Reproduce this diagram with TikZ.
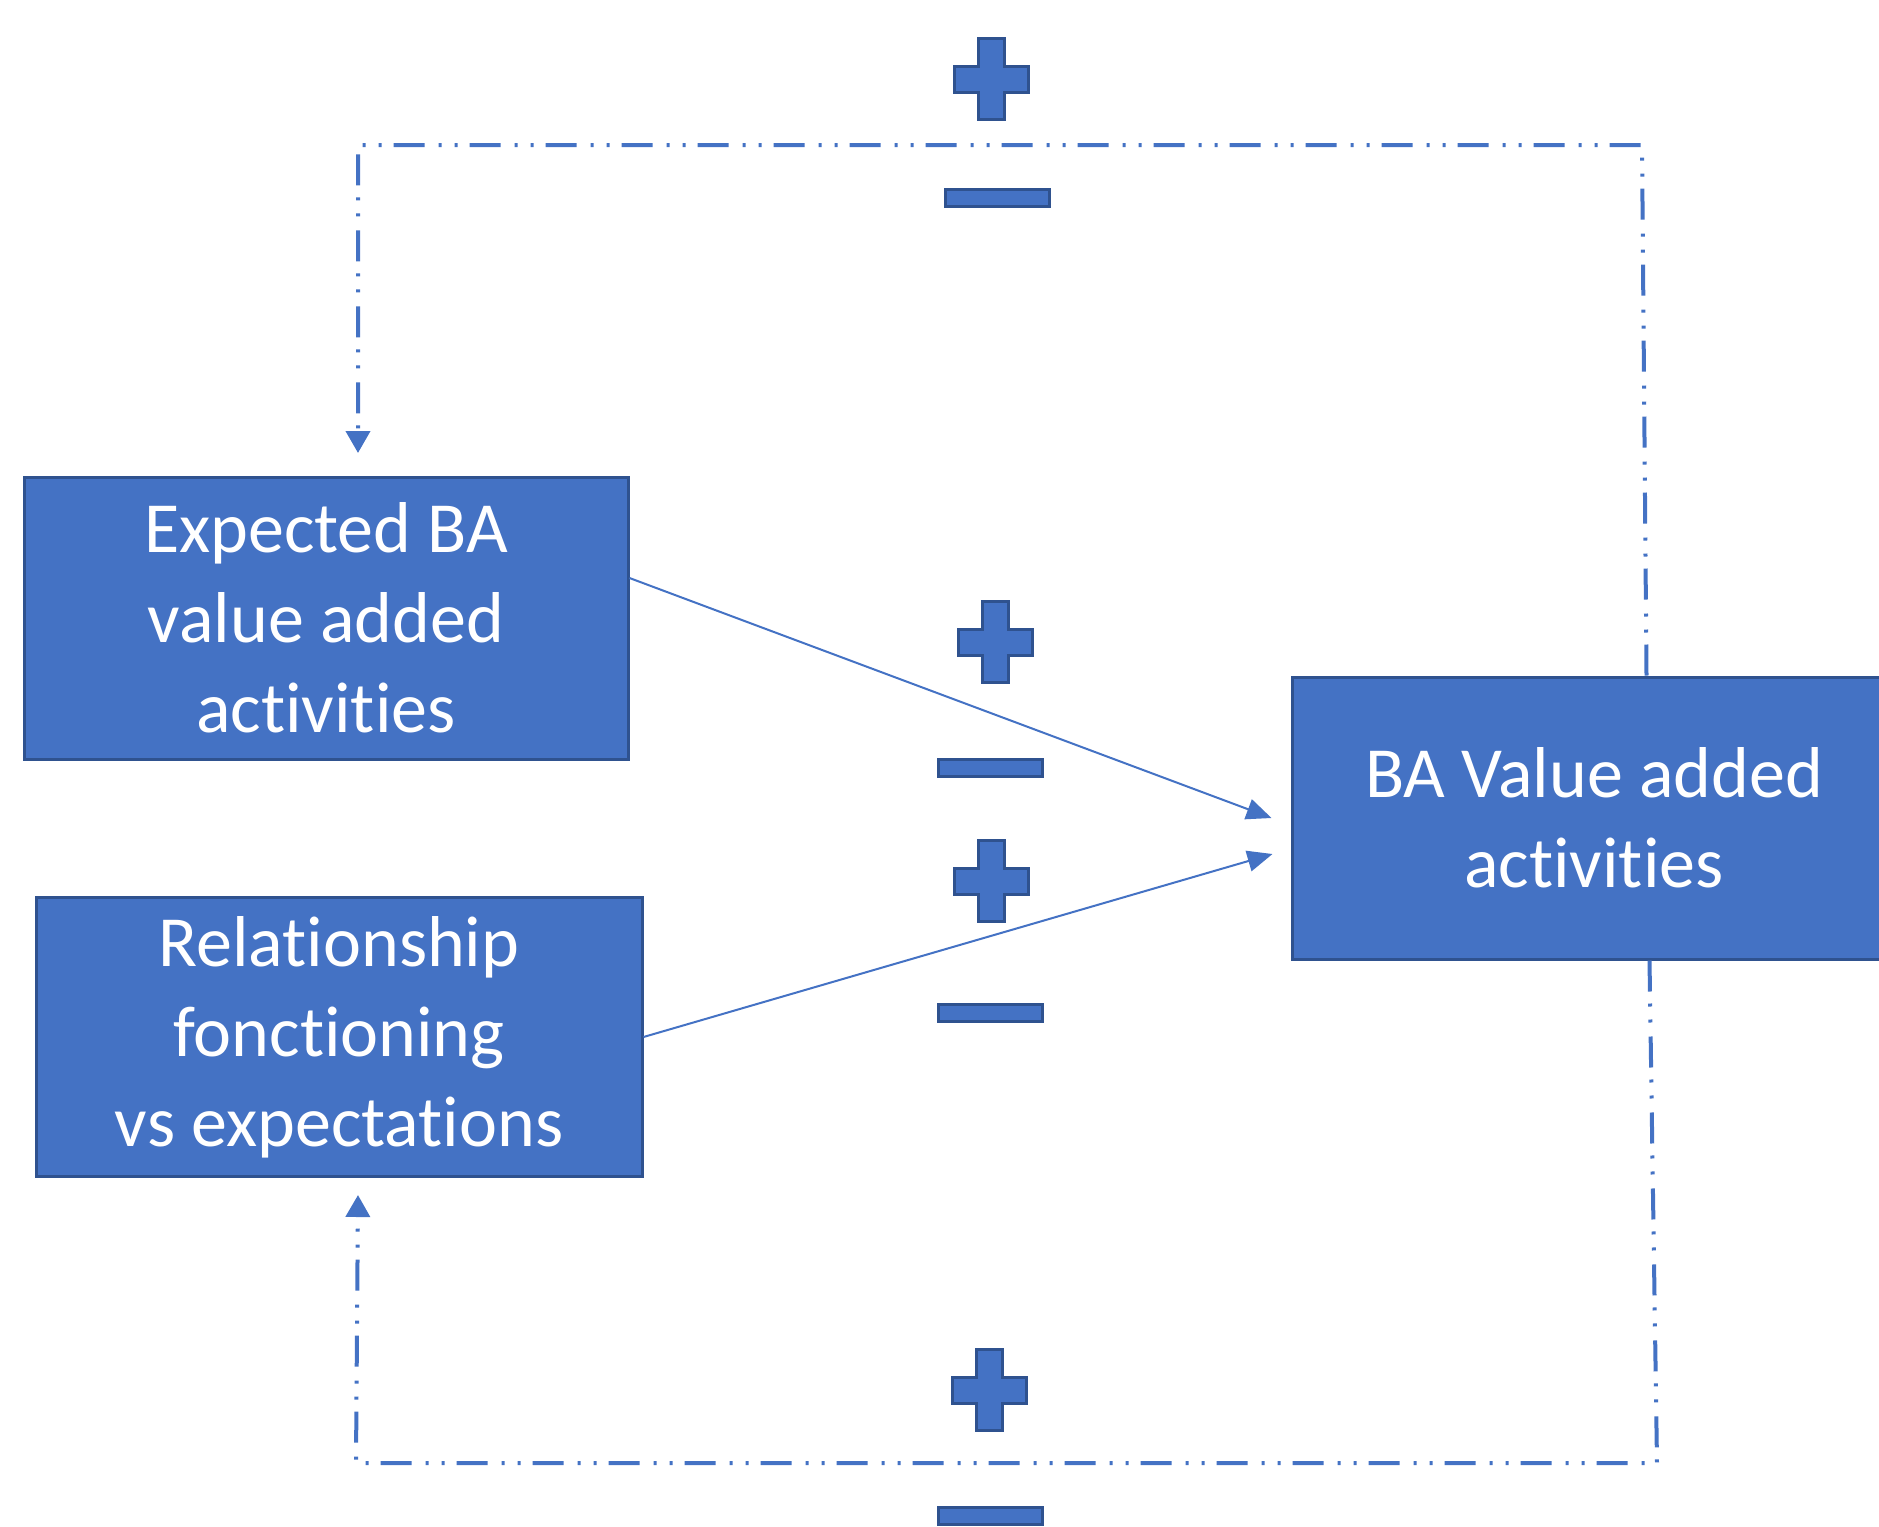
\documentclass[tikz,border=0pt]{standalone}
\usepackage{fontspec}
\setmainfont{Carlito}[RawFeature={-liga}]
\usetikzlibrary{arrows.meta,calc}
\definecolor{officeblue}{RGB}{68,114,196}
\definecolor{officeedge}{RGB}{47,82,143}

\tikzset{
  box/.style={draw=officeedge,line width=3pt,fill=officeblue,text=white,align=center,
    inner sep=0pt,minimum width=604pt,minimum height=282pt,font=\fontsize{72}{90}\selectfont},
  loopline/.style={officeblue,line width=4pt,
    dash pattern=on 31pt off 12pt on 3pt off 13pt on 3pt off 14pt,
    -{Triangle[length=22pt,width=24pt]}},
  link/.style={officeblue,line width=2pt,-{Triangle[length=25pt,width=21pt]}},
  sign/.style={fill=officeblue,draw=officeedge,line width=3pt,line join=miter}
}
\newcommand{\plusmark}[1]{\draw[sign,shift={#1}] (-13,-40.5) -- (13,-40.5) -- (13,-13) -- (37,-13) -- (37,13) -- (13,13) -- (13,40.5) -- (-13,40.5) -- (-13,13) -- (-37,13) -- (-37,-13) -- (-13,-13) -- cycle;}
\newcommand{\minusmark}[1]{\draw[sign,shift={#1}] (-52,-8.5) rectangle (52,8.5);}

\begin{document}
\begin{tikzpicture}[x=1pt,y=-1pt]
  \useasboundingbox (0,0) rectangle (1879,1526);

  % boxes
  \node[box] (exp) at (326,618) {Expected BA\\value added\\activities};
  \node[box,minimum width=606pt,minimum height=279pt] (rel) at (339,1037) {Relationship\\fonctioning\\vs expectations};
  \node[box] (val) at (1594,818) {BA Value added\\activities};

  % influences
  \draw[link] ($(exp.east)+(0,-40)$) -- ($(val.west)+(-19,0)$);
  \draw[link] (rel.east) -- ($(val.west)+(-18,36)$);

  % feedback loops
  \coordinate (tr) at (1642,145);
  \coordinate (tl) at (358,145);
  \coordinate (ein) at (358,453);
  \coordinate (br) at (1657,1463);
  \coordinate (bl) at (356,1463);
  \coordinate (rin) at (358,1195);
  \draw[loopline] ($(val.north west)+(356,0)$) -- (tr) -- (tl) -- (ein);
  \draw[loopline] ($(val.south west)+(359,0)$) -- (br) -- (bl) -- (rin);

  % signs
  \plusmark{(991,79)}
  \minusmark{(997,198)}
  \plusmark{(995,642)}
  \minusmark{(990,768)}
  \plusmark{(991,881)}
  \minusmark{(990,1013)}
  \plusmark{(989,1390)}
  \minusmark{(990,1516)}
\end{tikzpicture}
\end{document}
